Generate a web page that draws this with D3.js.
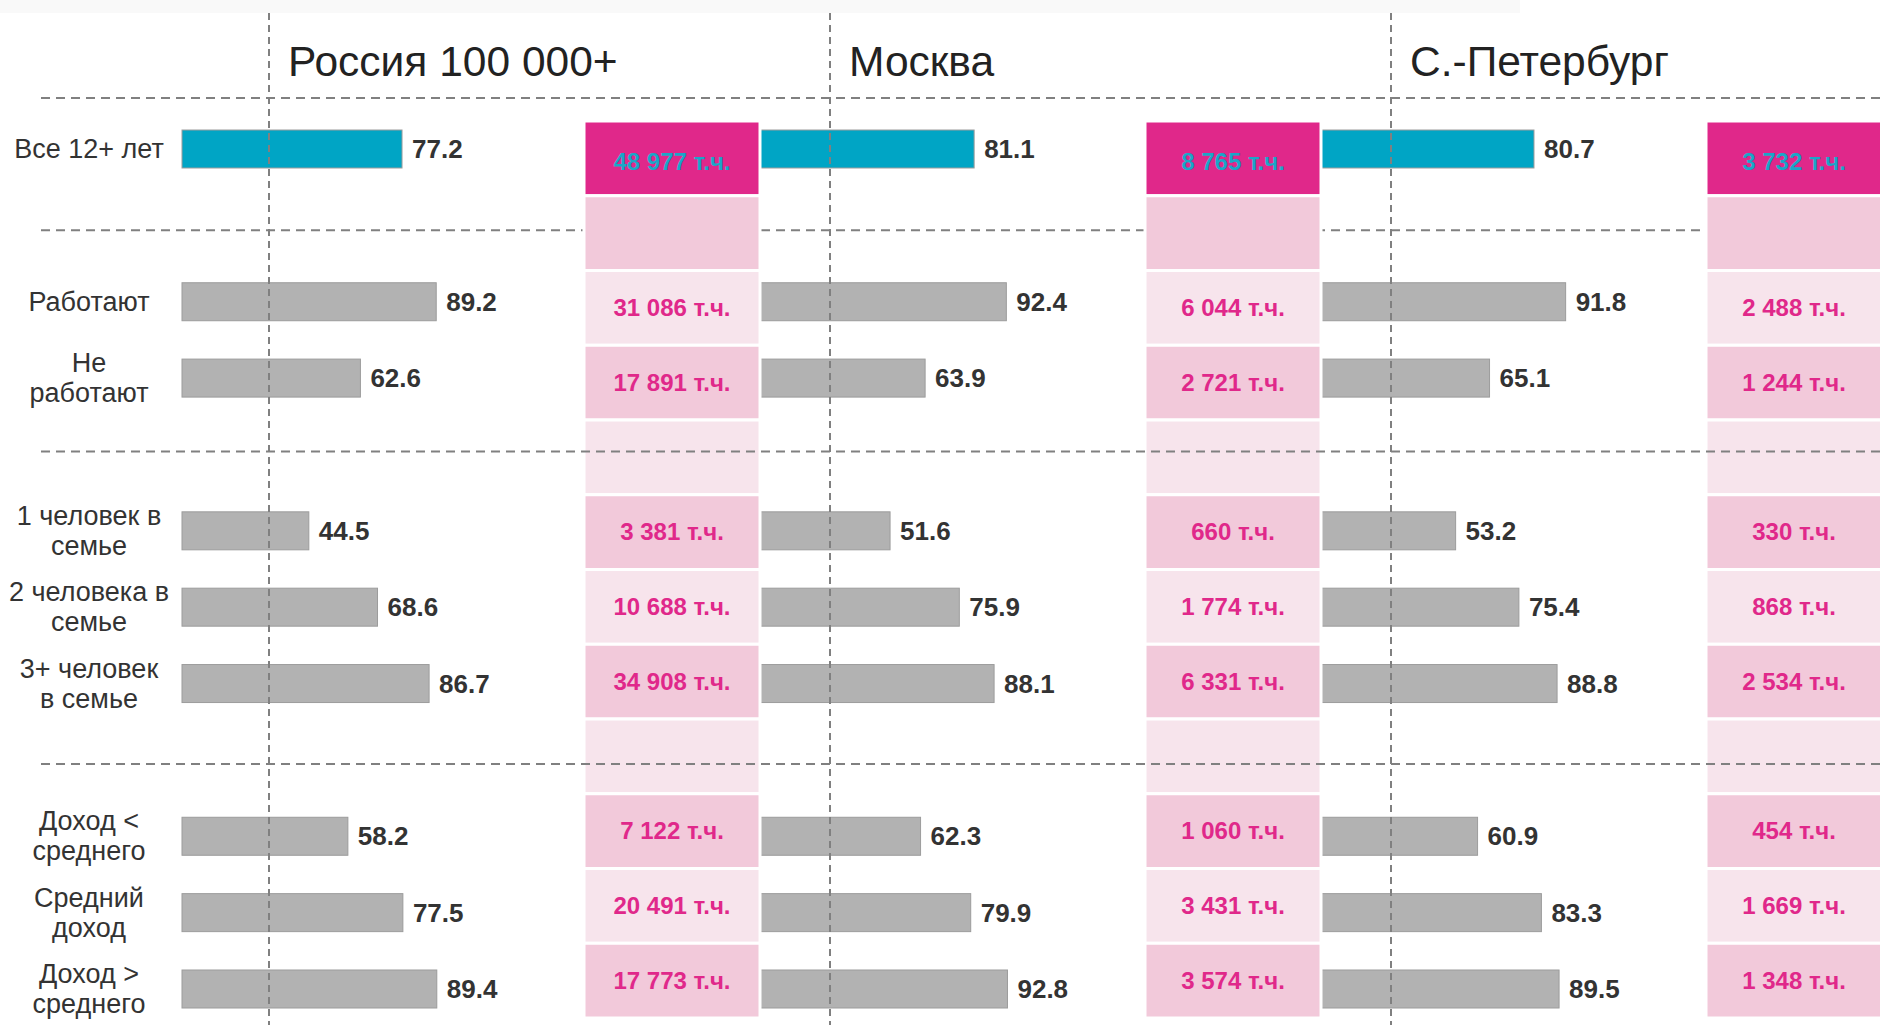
<!DOCTYPE html>
<html>
<head>
<meta charset="utf-8">
<script src="https://cdn.jsdelivr.net/npm/d3@7"></script>
<style>
  body { margin: 0; background: #fff; }
  svg text { font-family: "Liberation Sans", Arial, sans-serif; }
</style>
</head>
<body>
<svg id="chart"></svg>
<script>
// --- data ---
const regions = ["Россия 100 000+", "Москва", "С.-Петербург"];

// row slot for each category (empty slots are the section gaps)
const rowSlots = [0, 2, 3, 5, 6, 7, 9, 10, 11];
const categoryLabels = [
    ["Все 12+ лет"],
    ["Работают"],
    ["Не", "работают"],
    ["1 человек в", "семье"],
    ["2 человека в", "семье"],
    ["3+ человек", "в семье"],
    ["Доход <", "среднего"],
    ["Средний", "доход"],
    ["Доход >", "среднего"]
];

const russiaValues = [77.2, 89.2, 62.6, 44.5, 68.6, 86.7, 58.2, 77.5, 89.4];
const moscowValues = [81.1, 92.4, 63.9, 51.6, 75.9, 88.1, 62.3, 79.9, 92.8];
const spbValues    = [80.7, 91.8, 65.1, 53.2, 75.4, 88.8, 60.9, 83.3, 89.5];

const russiaCounts = ["48 977", "31 086", "17 891", "3 381", "10 688", "34 908", "7 122", "20 491", "17 773"];
const moscowCounts = ["8 765", "6 044", "2 721", "660", "1 774", "6 331", "1 060", "3 431", "3 574"];
const spbCounts    = ["3 732", "2 488", "1 244", "330", "868", "2 534", "454", "1 669", "1 348"];

const sectionBreaks = [1, 4, 8];   // empty slots carrying a dashed separator

const panelValues = [russiaValues, moscowValues, spbValues];
const panelCounts = [russiaCounts, moscowCounts, spbCounts];

// --- layout ---
const width = 1880, height = 1025;
const panelStep = 561;
const barOrigin = 182;
const barH = 38;
const boxLeft = 584, boxW = 176;
const slots = d3.range(12);

const svg = d3.select("#chart").attr("width", width).attr("height", height);

const x = d3.scaleLinear().domain([0, 100]).range([0, 285]);
const yBar = d3.scalePoint().domain(slots).range([149, 989]);
const yBox = d3.scaleBand().domain(slots).range([121, 1018]);

const colors = {
    bar: "#b2b2b2", barStroke: "#9c9c9c", total: "#00a5c5",
    boxTotal: "#e0288a", boxDark: "#f2c9da", boxLight: "#f7e4ec",
    countText: "#e0288a", totalText: "#1aa6c8", grid: "#808080", text: "#333"
};

// faint strip at top
svg.append("rect").attr("x", 0).attr("y", 0).attr("width", 1520).attr("height", 13).attr("fill", "#f9f9f9");

const dashed = (sel) => sel.attr("stroke", colors.grid).attr("stroke-width", 2).attr("stroke-dasharray", "9,6");

// separators under the boxes
svg.append("line").attr("x1", 41).attr("x2", width).attr("y1", 98).attr("y2", 98).call(dashed);
svg.append("line").attr("x1", 41).attr("x2", width)
    .attr("y1", yBar(sectionBreaks[0]) + 5).attr("y2", yBar(sectionBreaks[0]) + 5).call(dashed);

const rows = rowSlots.map((s, i) => ({ slot: s, i }));

regions.forEach((name, p) => {
    const g = svg.append("g").attr("transform", `translate(${p * panelStep},0)`);
    const vals = panelValues[p];

    g.selectAll("rect.bar")
        .data(rows)
        .join("rect")
        .attr("class", "bar")
        .attr("x", barOrigin)
        .attr("y", d => yBar(d.slot) - barH / 2)
        .attr("width", d => x(vals[d.i]))
        .attr("height", barH)
        .attr("fill", d => d.i === 0 ? colors.total : colors.bar)
        .attr("stroke", colors.barStroke)
        .attr("stroke-width", 1);

    g.selectAll("text.val")
        .data(rows)
        .join("text")
        .attr("class", "val")
        .attr("x", d => barOrigin + x(vals[d.i]) + 10)
        .attr("y", d => yBar(d.slot) + 9)
        .attr("font-size", 26)
        .attr("font-weight", "bold")
        .attr("fill", colors.text)
        .text(d => vals[d.i].toFixed(1));
});

// count boxes on top of bars
regions.forEach((name, p) => {
    const g = svg.append("g").attr("transform", `translate(${p * panelStep},0)`);
    const counts = panelCounts[p];
    g.selectAll("rect.box")
        .data(slots)
        .join("rect")
        .attr("class", "box")
        .attr("x", boxLeft)
        .attr("y", s => yBox(s))
        .attr("width", boxW)
        .attr("height", yBox.bandwidth())
        .attr("fill", s => s === 0 ? colors.boxTotal : (s % 2 ? colors.boxDark : colors.boxLight))
        .attr("stroke", "#fff")
        .attr("stroke-width", 3);

    g.selectAll("text.cnt")
        .data(rows)
        .join("text")
        .attr("class", "cnt")
        .attr("x", boxLeft + boxW / 2)
        .attr("y", d => yBox(d.slot) + yBox.bandwidth() / 2 + (d.i === 0 ? 12 : 8))
        .attr("text-anchor", "middle")
        .attr("font-size", 24)
        .attr("font-weight", "bold")
        .attr("fill", d => d.i === 0 ? colors.totalText : colors.countText)
        .text(d => counts[d.i] + " т.ч.");
});

// separators drawn over the boxes
svg.selectAll("line.sep")
    .data(sectionBreaks.slice(1))
    .join("line")
    .attr("class", "sep")
    .attr("x1", 41).attr("x2", width)
    .attr("y1", (s, i) => yBar(s) + (i ? 4 : -3)).attr("y2", (s, i) => yBar(s) + (i ? 4 : -3))
    .call(dashed);

// vertical reference lines and titles
regions.forEach((name, p) => {
    const vx = 269 + p * panelStep;
    svg.append("line")
        .attr("x1", vx).attr("x2", vx).attr("y1", 13).attr("y2", height)
        .attr("stroke", colors.grid).attr("stroke-width", 2).attr("stroke-dasharray", "7,5");
    svg.append("text")
        .attr("x", vx + 19).attr("y", 76)
        .attr("font-size", 42.5)
        .attr("fill", "#222")
        .text(name);
});

// category labels
const lab = svg.append("g");
rows.forEach(d => {
    const lines = categoryLabels[d.i];
    const cy = yBar(d.slot);
    const t = lab.append("text")
        .attr("x", 89)
        .attr("text-anchor", "middle")
        .attr("font-size", 27)
        .attr("fill", colors.text);
    lines.forEach((ln, k) => {
        t.append("tspan")
            .attr("x", 89)
            .attr("y", cy + 9 + (k - (lines.length - 1) / 2) * 30)
            .text(ln);
    });
});
</script>
</body>
</html>
